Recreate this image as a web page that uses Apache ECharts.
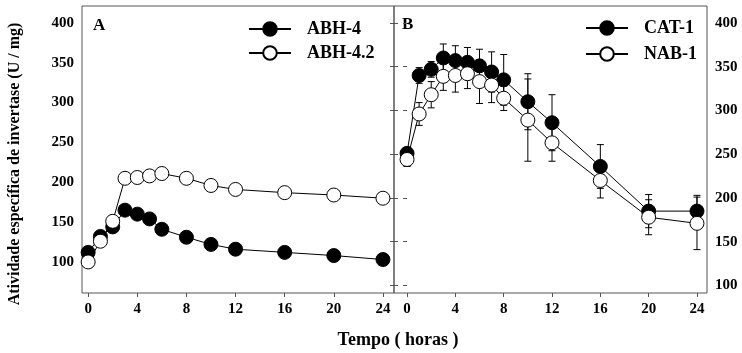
<!DOCTYPE html>
<html>
<head>
<meta charset="utf-8">
<script src="https://cdn.jsdelivr.net/npm/echarts@6/dist/echarts.min.js"></script>
<style>
  html, body { margin: 0; padding: 0; background: #fff; }
  #chart { width: 742px; height: 353px; }
</style>
</head>
<body>
<div id="chart"></div>
<script>
// Painel A
const hoursA = [0, 1, 2, 3, 4, 5, 6, 8, 10, 12, 16, 20, 24];
const abh4 = [112, 132, 144, 165, 160, 154, 141, 131, 122, 116, 112, 108, 103];
const abh42 = [100, 126, 151, 205, 206, 208, 211, 205, 196, 191, 187, 184, 180];

// Painel B
const hoursB = [0, 1, 2, 3, 4, 5, 6, 7, 8, 10, 12, 16, 20, 24];
const cat1 = [251, 340, 347, 360, 357, 355, 351, 344, 335, 310, 286, 236, 185, 185];
const cat1Err = [5, 9, 9, 16, 17, 17, 19, 23, 29, 32, 32, 25, 19, 18];
const nab1 = [244, 296, 318, 339, 340, 342, 333, 329, 314, 289, 263, 220, 178, 171];
const nab1Err = [8, 13, 15, 16, 19, 17, 25, 20, 14, 47, 21, 20, 20, 30];

const xTicks = [0, 4, 8, 12, 16, 20, 24];
const yTicks = [100, 150, 200, 250, 300, 350, 400];

const FONT = '"Liberation Serif", "Times New Roman", serif';
const AXIS = '#555';
const lbl = { fontFamily: FONT, fontWeight: 'bold', fontSize: 15, color: '#000' };

const pair = (xs, ys) => xs.map((x, i) => [x, ys[i]]);
const withErr = (xs, ys, es) => xs.map((x, i) => [x, ys[i], es[i]]);

function errBar(params, api) {
  const x = api.value(0), y = api.value(1), e = api.value(2);
  const top = api.coord([x, y + e]);
  const bot = api.coord([x, y - e]);
  const w = 3.5;
  const st = { stroke: '#000', lineWidth: 1 };
  return {
    type: 'group',
    children: [
      { type: 'line', shape: { x1: top[0], y1: top[1], x2: bot[0], y2: bot[1] }, style: st },
      { type: 'line', shape: { x1: top[0] - w, y1: top[1], x2: top[0] + w, y2: top[1] }, style: st },
      { type: 'line', shape: { x1: bot[0] - w, y1: bot[1], x2: bot[0] + w, y2: bot[1] }, style: st },
    ],
  };
}

const lineSeries = (name, data, fill, xi) => ({
  name, type: 'line', data, xAxisIndex: xi, yAxisIndex: xi === 0 ? 0 : 1,
  symbol: 'circle', symbolSize: 14, z: 3,
  lineStyle: { color: '#000', width: 1 },
  itemStyle: { color: fill, borderColor: '#000', borderWidth: 1 },
  emphasis: { disabled: true },
});

const chart = echarts.init(document.getElementById('chart'), null, { renderer: 'canvas' });

chart.setOption({
  animation: false,
  grid: [
    { left: 82, top: 6, width: 312, height: 287, show: true, borderColor: AXIS, borderWidth: 1 },
    { left: 394, top: 6, width: 313, height: 287, show: true, borderColor: AXIS, borderWidth: 1 },
  ],
  xAxis: [
    {
      gridIndex: 0, type: 'value', min: -0.5, max: 24.9,
      axisLine: { show: false }, splitLine: { show: false },
      axisTick: { customValues: xTicks, length: 4, lineStyle: { color: AXIS } },
      axisLabel: { ...lbl, customValues: xTicks, margin: 9 },
    },
    {
      gridIndex: 1, type: 'value', min: -1.08, max: 24.83,
      axisLine: { show: false }, splitLine: { show: false },
      axisTick: { customValues: xTicks, length: 4, lineStyle: { color: AXIS } },
      axisLabel: { ...lbl, customValues: xTicks, margin: 9 },
    },
  ],
  yAxis: [
    {
      gridIndex: 0, type: 'value', min: 61, max: 421.3,
      axisLine: { show: false }, splitLine: { show: false }, axisTick: { show: false },
      axisLabel: { ...lbl, customValues: yTicks, margin: 8 },
    },
    {
      gridIndex: 1, type: 'value', position: 'right', min: 91.4, max: 419.4,
      axisLine: { show: false }, splitLine: { show: false },
      axisTick: { customValues: yTicks, inside: true, length: 4, lineStyle: { color: AXIS } },
      axisLabel: { ...lbl, customValues: yTicks, margin: 8 },
    },
    {
      // ticks que atravessam a divisória entre os painéis
      gridIndex: 1, type: 'value', position: 'left', offset: -4, min: 91.4, max: 419.4,
      axisLine: { show: false }, splitLine: { show: false }, axisLabel: { show: false },
      axisTick: { customValues: yTicks, inside: false, length: 8, lineStyle: { color: AXIS } },
    },
  ],
  legend: [
    {
      data: ['ABH-4', 'ABH-4.2'], orient: 'vertical', left: 248, top: 20, padding: 0,
      itemWidth: 42, itemHeight: 17, itemGap: 6, selectedMode: false,
      textStyle: { fontFamily: FONT, fontWeight: 'bold', fontSize: 18, color: '#000', padding: [0, 0, 0, 11] },
    },
    {
      data: ['CAT-1', 'NAB-1'], orient: 'vertical', left: 585, top: 19, padding: 0,
      itemWidth: 42, itemHeight: 17, itemGap: 8, selectedMode: false,
      textStyle: { fontFamily: FONT, fontWeight: 'bold', fontSize: 18, color: '#000', padding: [0, 0, 0, 11] },
    },
  ],
  graphic: [
    { type: 'text', left: 93, top: 17, style: { text: 'A', font: 'bold 17px ' + FONT, fill: '#000' } },
    { type: 'text', left: 402, top: 16, style: { text: 'B', font: 'bold 17px ' + FONT, fill: '#000' } },
    { type: 'text', x: 398, y: 340, style: { text: 'Tempo ( horas )', font: 'bold 18px ' + FONT, fill: '#000', align: 'center', verticalAlign: 'middle' } },
    { type: 'text', x: 15, y: 164, rotation: Math.PI / 2, style: { text: 'Atividade específica de invertase (U / mg)', font: 'bold 16px ' + FONT, fill: '#000', align: 'center', verticalAlign: 'middle' } },
  ],
  series: [
    lineSeries('ABH-4', pair(hoursA, abh4), '#000', 0),
    lineSeries('ABH-4.2', pair(hoursA, abh42), '#fff', 0),
    {
      type: 'custom', xAxisIndex: 1, yAxisIndex: 1, z: 2, silent: true,
      renderItem: errBar, data: withErr(hoursB, cat1, cat1Err),
    },
    {
      type: 'custom', xAxisIndex: 1, yAxisIndex: 1, z: 2, silent: true,
      renderItem: errBar, data: withErr(hoursB, nab1, nab1Err),
    },
    lineSeries('CAT-1', pair(hoursB, cat1), '#000', 1),
    lineSeries('NAB-1', pair(hoursB, nab1), '#fff', 1),
  ],
});
</script>
</body>
</html>
